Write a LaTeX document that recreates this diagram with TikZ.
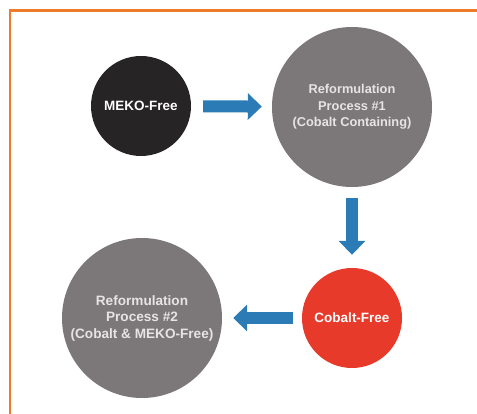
\documentclass[tikz,border=0pt]{standalone}
\usepackage{fontspec}
\setmainfont{Liberation Sans}
\usetikzlibrary{arrows.meta}
\definecolor{bordercol}{HTML}{EE7B2B}
\definecolor{mekocol}{HTML}{262425}
\definecolor{graycol}{HTML}{7C7879}
\definecolor{redcol}{HTML}{E83A2A}
\definecolor{arrowcol}{HTML}{2B7BB6}
\definecolor{lighttext}{HTML}{E6E4E4}
\tikzset{
  bubble/.style={circle, inner sep=0pt, align=center, font=\fontsize{13.5}{16.5}\selectfont\bfseries},
  bigbubble/.style={bubble, minimum size=160pt, fill=graycol, text=lighttext, font=\fontsize{12.8}{16.5}\selectfont\bfseries},
  smallbubble/.style={bubble, minimum size=100pt, text=white},
  blockarrow/.style={draw=arrowcol, line width=12pt, line cap=butt, -{Triangle[width=26pt,length=14pt]}}
}
\begin{document}
\begin{tikzpicture}[x=1pt,y=-1pt]
\useasboundingbox (0,0) rectangle (477,414);
\fill[white] (0,0) rectangle (477,414);
\draw[bordercol, line width=2.4pt] (9.7,414) -- (9.7,10.5) -- (477,10.5);
\node[smallbubble, fill=mekocol] (meko) at (141,106) {MEKO-Free};
\node[bigbubble] (ref1) at (352,107) {Reformulation\\Process \#1\\(Cobalt Containing)};
\node[smallbubble, fill=redcol] (cobalt) at (352,318) {Cobalt-Free};
\node[bigbubble, font=\fontsize{13.6}{16.5}\selectfont\bfseries] (ref2) at (142,318) {Reformulation\\Process \#2\\(Cobalt \& MEKO-Free)};
\draw[blockarrow, shorten <=12pt, shorten >=10pt] (meko) -- (ref1);
\draw[blockarrow, shorten <=11pt, shorten >=13pt] (ref1) -- (cobalt);
\draw[blockarrow, shorten <=9pt, shorten >=11pt] (cobalt) -- (ref2);
\end{tikzpicture}
\end{document}
